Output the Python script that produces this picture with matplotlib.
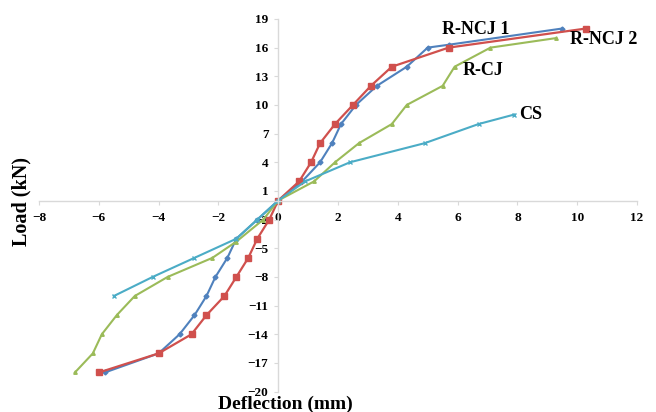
import matplotlib
matplotlib.use('Agg')
import matplotlib.pyplot as plt

# Load-deflection data (mm, kN)
ncj1_x = [-5.8, -4.0, -3.3, -2.8, -2.4, -2.1, -1.7, -1.4, -0.7, 0, 0.8, 1.4, 1.8, 2.1, 2.6, 3.3, 4.3, 5.0, 5.7, 9.5]
ncj1_y = [-18, -16, -14, -12, -10, -8, -6, -4, -2, 0, 2, 4, 6, 8, 10, 12, 14, 16, 16.3, 18]

ncj2_x = [-6.0, -4.0, -2.9, -2.4, -1.8, -1.4, -1.0, -0.7, -0.3, 0, 0.7, 1.1, 1.4, 1.9, 2.5, 3.1, 3.8, 5.7, 10.3]
ncj2_y = [-18, -16, -14, -12, -10, -8, -6, -4, -2, 0, 2, 4, 6, 8, 10, 12, 14, 16, 18]

cj_x = [-6.8, -6.2, -5.9, -5.4, -4.8, -3.7, -2.2, -1.4, -0.5, 0, 1.2, 1.9, 2.7, 3.8, 4.3, 5.5, 5.9, 7.1, 9.3]
cj_y = [-18, -16, -14, -12, -10, -8, -6, -4.3, -2, 0, 2, 4, 6, 8, 10, 12, 14, 16, 17]

cs_x = [-5.5, -4.2, -2.8, -1.4, -0.7, 0, 0.9, 2.4, 4.9, 6.7, 7.9]
cs_y = [-10, -8, -6, -4, -2, 0, 2, 4, 6, 8, 9]

xticks = list(range(-8, 13, 2))
yticks = list(range(-20, 20, 3))

plt.rcParams['font.family'] = 'Liberation Serif'
plt.rcParams['font.weight'] = 'bold'

fig = plt.figure(figsize=(6.56, 4.12), dpi=100)
ax = fig.add_axes([0.0595, 0.0495, 0.9115, 0.9045])

ax.plot(ncj1_x, ncj1_y, color='#4F81BD', lw=1.5, marker='D', ms=2.5)
ax.plot(ncj2_x, ncj2_y, color='#D0504D', lw=1.6, marker='s', ms=3.8)
ax.plot(cj_x, cj_y, color='#9BBB59', lw=1.5, marker='^', ms=2.5)
ax.plot(cs_x, cs_y, color='#4BACC6', lw=1.5, marker='x', ms=2.5)

ax.set_xlim(-8, 12)
ax.set_ylim(-20, 19)
ax.set_xticks(xticks)
ax.set_yticks(yticks)

for s in ['top', 'right']:
    ax.spines[s].set_visible(False)
ax.spines['left'].set_position(('data', 0))
ax.spines['bottom'].set_position(('data', 0))
for s in ['left', 'bottom']:
    ax.spines[s].set_color('#D9D9D9')
    ax.spines[s].set_linewidth(1)
ax.tick_params(axis='both', direction='out', length=3, color='#D9D9D9', labelsize=9.5)
ax.tick_params(axis='x', pad=5)
ax.tick_params(axis='y', pad=4)

# series labels
ax.text(6.6, 17.9, 'R-NCJ 1', fontsize=13, ha='center', va='center')
ax.text(10.9, 16.8, 'R-NCJ 2', fontsize=13, ha='center', va='center')
ax.text(6.85, 13.65, 'R-CJ', fontsize=13, ha='center', va='center')
ax.text(8.45, 8.95, 'CS', fontsize=13, ha='center', va='center')

fig.text(21 / 656, 1 - 201 / 412, 'Load (kN)', fontsize=14.5, rotation=90, ha='center', va='center')
fig.text(285 / 656, 1 - 404 / 412, 'Deflection (mm)', fontsize=14, ha='center', va='center')

fig.savefig('out.png', dpi=100)
